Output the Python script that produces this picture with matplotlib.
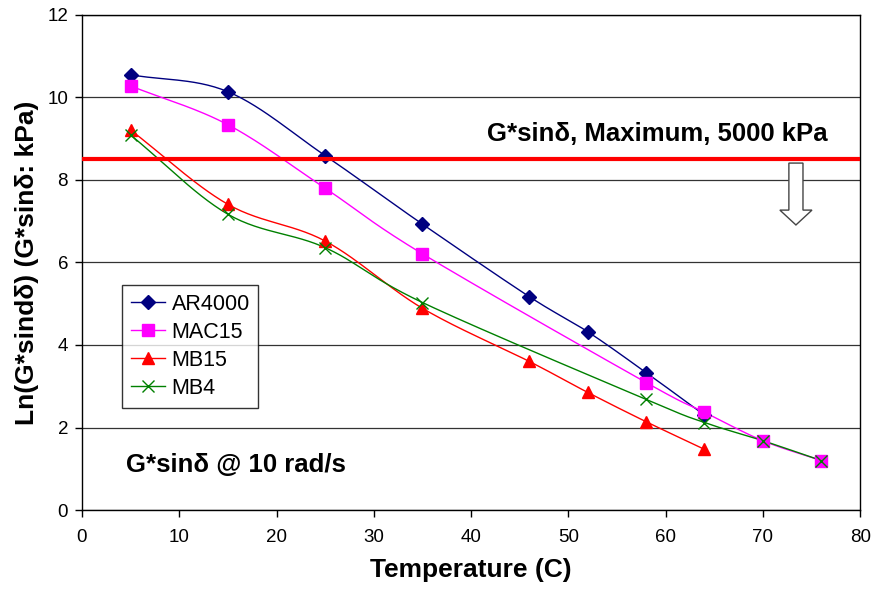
import numpy as np
import matplotlib
matplotlib.use('Agg')
import matplotlib.pyplot as plt
import matplotlib.patches as mpatches

plt.rcParams['font.family'] = ['Liberation Sans', 'DejaVu Sans']

# Temperaturas e valores de Ln(G*sin(delta)) por ligante
temp_ar4000 = [5, 15, 25, 35, 46, 52, 58, 64]
ln_ar4000 = [10.55, 10.14, 8.59, 6.93, 5.17, 4.32, 3.33, 2.30]

temp_mac15 = [5, 15, 25, 35, 58, 64, 70, 76]
ln_mac15 = [10.28, 9.34, 7.80, 6.21, 3.09, 2.37, 1.68, 1.20]

temp_mb15 = [5, 15, 25, 35, 46, 52, 58, 64]
ln_mb15 = [9.21, 7.41, 6.52, 4.89, 3.60, 2.85, 2.14, 1.47]

temp_mb4 = [5, 15, 25, 35, 58, 64, 70, 76]
ln_mb4 = [9.09, 7.17, 6.36, 5.03, 2.68, 2.12, 1.68, 1.20]

limite_max = np.log(5000)


def suavizar(x, y, n=30):
    # curva suave do tipo Catmull-Rom passando por todos os pontos
    x = np.asarray(x, float)
    y = np.asarray(y, float)
    px = np.concatenate([[2 * x[0] - x[1]], x, [2 * x[-1] - x[-2]]])
    py = np.concatenate([[2 * y[0] - y[1]], y, [2 * y[-1] - y[-2]]])
    xs, ys = [], []
    t = np.linspace(0, 1, n)
    for i in range(1, len(px) - 2):
        for p, out in ((px, xs), (py, ys)):
            p0, p1, p2, p3 = p[i - 1], p[i], p[i + 1], p[i + 2]
            m1 = (p2 - p0) / 6.0
            m2 = (p3 - p1) / 6.0
            c1 = p1 + m1
            c2 = p2 - m2
            out.extend((1 - t) ** 3 * p1 + 3 * (1 - t) ** 2 * t * c1
                       + 3 * (1 - t) * t ** 2 * c2 + t ** 3 * p2)
    return np.array(xs), np.array(ys)


fig = plt.figure(figsize=(8.75, 5.92), dpi=100)
ax = fig.add_axes([0.0937, 0.1385, 0.8893, 0.8362])

series = [
    ('AR4000', temp_ar4000, ln_ar4000, '#000080', 'D', 7.5),
    ('MAC15', temp_mac15, ln_mac15, '#FF00FF', 's', 8.5),
    ('MB15', temp_mb15, ln_mb15, '#FF0000', '^', 8.5),
    ('MB4', temp_mb4, ln_mb4, '#008000', 'x', 8.5),
]

for nome, x, y, cor, marc, tam in series:
    xs, ys = suavizar(x, y)
    ax.plot(xs, ys, color=cor, lw=1.0, zorder=3)
    ax.plot(x, y, linestyle='none', marker=marc, color=cor, ms=tam,
            mew=1.0, zorder=4)
    ax.plot([], [], color=cor, lw=1.0, marker=marc, ms=tam, mew=1.0, label=nome)

# Limite máximo de G*sin(delta)
ax.axhline(limite_max, color='#FF0000', lw=3, zorder=5)
ax.text(59.1, 9.12, 'G*sinδ, Maximum, 5000 kPa', fontsize=18.5,
        fontweight='bold', va='center', ha='center', zorder=6)
seta = mpatches.FancyArrow(73.4, 8.41, 0, -1.5, width=1.45, head_width=3.3,
                           head_length=0.36, length_includes_head=True,
                           facecolor='white', edgecolor='#444444', lw=1.0,
                           zorder=6)
ax.add_patch(seta)

ax.text(4.5, 1.09, 'G*sinδ @ 10 rad/s', fontsize=18.5, fontweight='bold',
        va='center', ha='left', zorder=6)

ax.set_xlim(0, 80)
ax.set_ylim(0, 12)
ax.set_xticks(np.arange(0, 81, 10))
ax.set_yticks(np.arange(0, 13, 2))
ax.yaxis.grid(True, color='#333333', lw=0.9)
ax.set_axisbelow(True)
ax.tick_params(direction='out', length=5, width=1, labelsize=13.5,
               colors='black')
ax.tick_params(axis='x', pad=9)
ax.tick_params(axis='y', pad=5)
for s in ax.spines.values():
    s.set_color('black')
    s.set_linewidth(1.0)

ax.set_xlabel('Temperature (C)', fontsize=19, fontweight='bold', labelpad=8)
ax.set_ylabel('Ln(G*sindδ) (G*sinδ: kPa)', fontsize=19, fontweight='bold',
              labelpad=6)

leg = ax.legend(loc='upper left', bbox_to_anchor=(0.0514, 0.4545),
                borderaxespad=0, fontsize=15.5, frameon=True, fancybox=False,
                edgecolor='black', handlelength=1.6, borderpad=0.4,
                labelspacing=0.33, handletextpad=0.3)
leg.get_frame().set_linewidth(1.0)

fig.savefig('out.png', dpi=100)
